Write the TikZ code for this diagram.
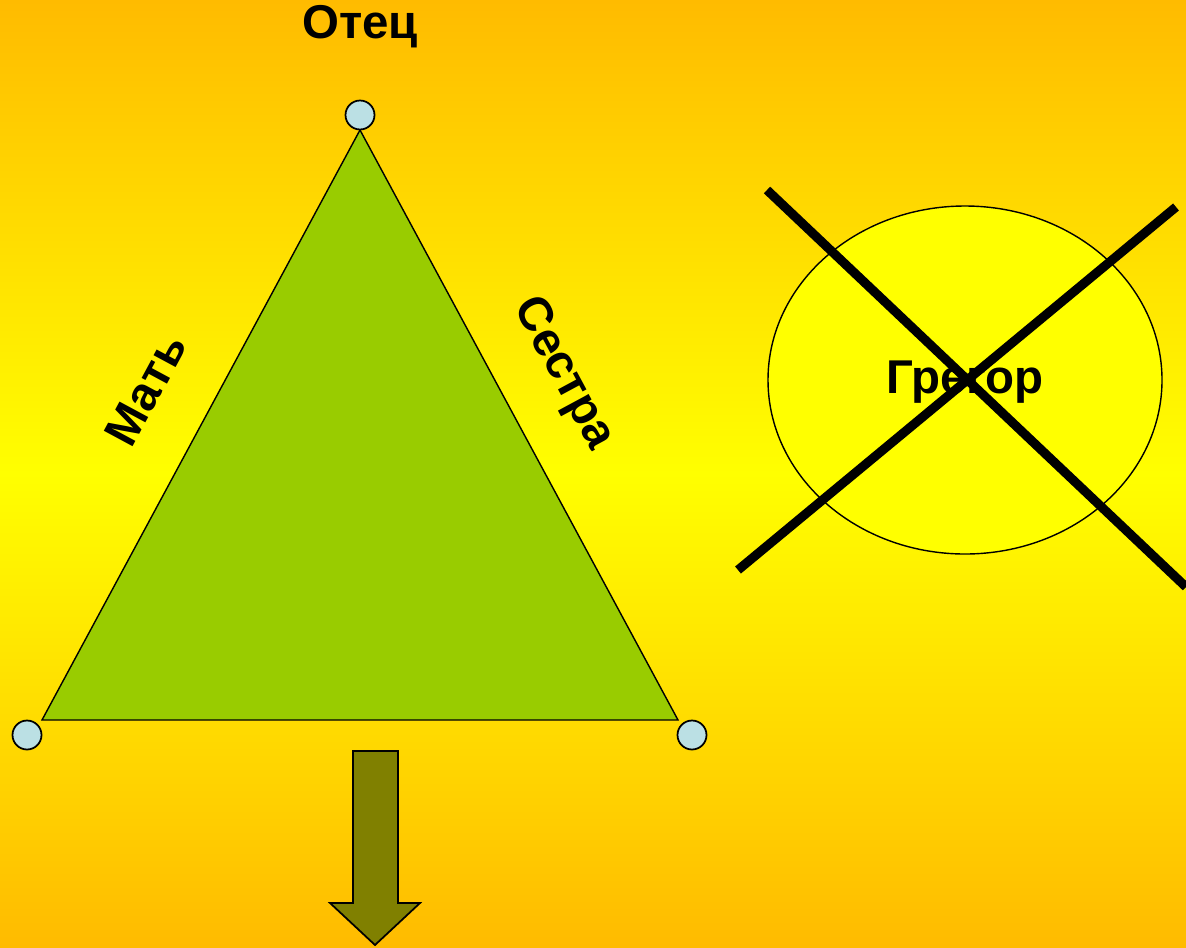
\documentclass[tikz,border=0pt]{standalone}
\usepackage{fontspec}
\setmainfont{Liberation Sans}
\usetikzlibrary{calc}

\definecolor{bgorange}{RGB}{255,187,0}
\definecolor{bgyellow}{RGB}{255,255,0}
\definecolor{treegreen}{RGB}{153,204,0}
\definecolor{dotblue}{RGB}{187,224,228}
\definecolor{arrowolive}{RGB}{128,128,0}

\tikzset{
  vertexdot/.style={circle, draw=black, line width=1pt, fill=dotblue, minimum size=0.58cm, inner sep=0pt},
  famlabel/.style={font=\fontsize{27}{31}\selectfont\bfseries, inner sep=0pt},
  crossline/.style={line width=5.2pt}
}

\begin{document}
\begin{tikzpicture}[x=0.02cm, y=-0.02cm]
  \useasboundingbox (0,0) rectangle (1186,947);
  \shade[top color=bgorange, bottom color=bgorange, middle color=bgyellow] (0,0) rectangle (1186,947);

  % Coordinates
  \coordinate (F) at (360,130);
  \coordinate (M) at (42,720);
  \coordinate (S) at (678,720);
  \coordinate (X1) at (767,190);
  \coordinate (X2) at (1186,587);
  \coordinate (Y1) at (738,570);
  \coordinate (Y2) at (1176,207);

  % Drawing
  \draw[fill=treegreen, line width=0.8pt] (F) -- (S) -- (M) -- cycle;
  \node[vertexdot] (dotF) at (360,115) {};
  \node[vertexdot] (dotM) at (27,735) {};
  \node[vertexdot] (dotS) at (692,735) {};

  \node[famlabel] (father) at (360,27) {Отец};
  \node[famlabel, rotate=61.7] (mother) at (146,390) {Мать};
  \node[famlabel, rotate=-61.7] (sister) at (563,374) {Сестра};

  \draw[fill=bgyellow, line width=0.8pt] (965,380) ellipse [x radius=197, y radius=174];
  \node[famlabel] (gregor) at (965,382) {Грегор};
  \draw[crossline] (X1) -- (X2);
  \draw[crossline] (Y1) -- (Y2);

  \draw[fill=arrowolive, line width=1pt]
    (353,751) -- (398,751) -- (398,903) -- (420,903) -- (375,945)
    -- (330,903) -- (353,903) -- cycle;
\end{tikzpicture}
\end{document}
